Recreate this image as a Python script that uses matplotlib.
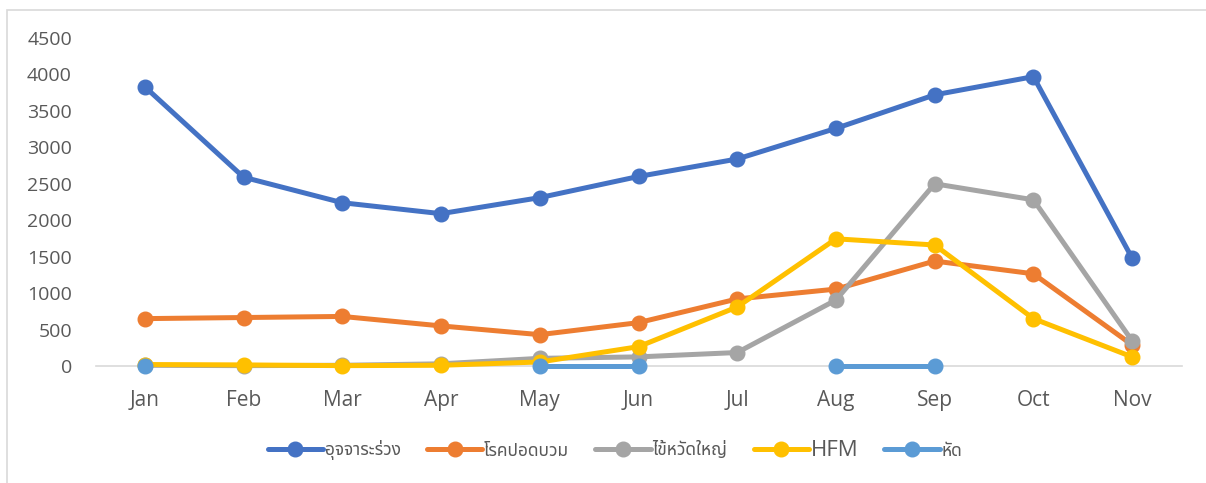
import numpy as np
import matplotlib
matplotlib.use("Agg")
import matplotlib.pyplot as plt
from matplotlib.patches import Rectangle

months = ["Jan", "Feb", "Mar", "Apr", "May", "Jun", "Jul", "Aug", "Sep", "Oct", "Nov"]
series_names = ["อุจจาระร่วง", "โรคปอดบวม", "ไข้หวัดใหญ่", "HFM", "หัด"]
diarrhea = [3830, 2590, 2240, 2090, 2310, 2600, 2840, 3260, 3720, 3970, 1480]
pneumonia = [650, 665, 680, 550, 430, 595, 920, 1055, 1440, 1265, 290]
influenza = [10, 5, 10, 30, 105, 125, 185, 905, 2500, 2280, 345]
hfm = [20, 15, 5, 10, 55, 265, 810, 1745, 1660, 650, 125]
measles = [0, np.nan, np.nan, np.nan, 0, 0, np.nan, 0, 0, np.nan, np.nan]
yticks = [0, 500, 1000, 1500, 2000, 2500, 3000, 3500, 4000, 4500]

colors = ["#4472C4", "#ED7D31", "#A5A5A5", "#FFC000", "#5B9BD5"]
text_color = "#595959"

plt.rcParams['font.family'] = ['Open Sans', 'Noto Sans Thai', 'Sarabun', 'DejaVu Sans']

W, H = 1206, 483
fig = plt.figure(figsize=(W / 100, H / 100), dpi=100)
ax = fig.add_axes([95.5 / W, 1 - 366 / H, (1181.5 - 95.5) / W, (366 - 38) / H])

x = np.arange(len(months))
for vals, name, c in zip([diarrhea, pneumonia, influenza, hfm, measles], series_names, colors):
    ax.plot(x, vals, color=c, lw=3.6, marker='o', markersize=10.5, label=name,
            solid_capstyle='round', clip_on=False)

ax.set_xlim(-0.5, len(months) - 0.5)
ax.set_ylim(0, 4500)
ax.set_yticks(yticks)
ax.set_yticklabels([str(t) for t in yticks])
ax.set_xticks(x)
ax.set_xticklabels(months)
ax.tick_params(axis='y', length=0, pad=17, labelsize=14, labelcolor=text_color)
ax.tick_params(axis='x', length=0, pad=17, labelsize=15, labelcolor=text_color)
for s in ['top', 'right', 'left']:
    ax.spines[s].set_visible(False)
ax.spines['bottom'].set_color('#D9D9D9')
ax.spines['bottom'].set_linewidth(1.2)
ax.spines['bottom'].set_zorder(0.5)

leg = fig.legend(loc='center', bbox_to_anchor=(615 / W, 1 - 450 / H), ncol=5, frameon=False,
                 fontsize=12.5, handlelength=3.2, handletextpad=0.1, columnspacing=1.5,
                 labelcolor=text_color)
leg.get_texts()[3].set_fontsize(16)

fig.patches.append(Rectangle((7 / W, -0.1), 1.2, 1 - 10 / H + 0.1, transform=fig.transFigure,
                             fill=False, edgecolor='#D9D9D9', lw=1.2))

fig.savefig("out.png", dpi=100)
